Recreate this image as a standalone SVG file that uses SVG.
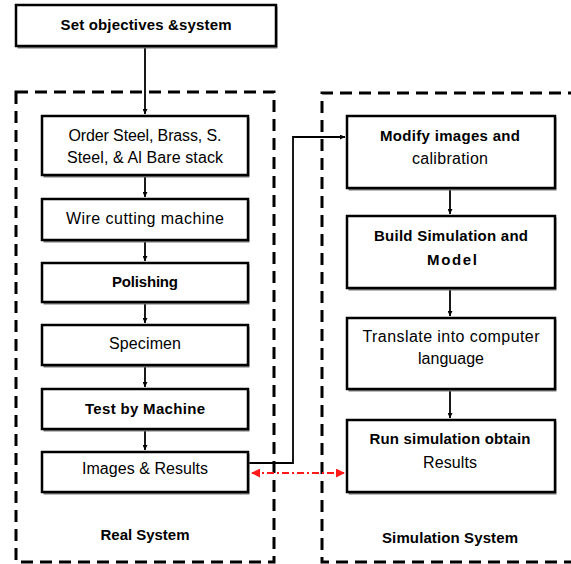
<svg xmlns="http://www.w3.org/2000/svg" width="571" height="564" viewBox="0 0 571 564">
<style>
.box{fill:#fff;stroke:#000;stroke-width:2.5}
.sh{fill:#777}
.t{font-family:"Liberation Sans",Arial,sans-serif;font-size:16px;text-anchor:middle;fill:#000}
.b{font-weight:bold;font-size:15px}
.cont{fill:none;stroke:#000;stroke-width:3;stroke-dasharray:12 7}
.con{fill:none;stroke:#000;stroke-width:1.8}
.red{fill:none;stroke:#ff1a1a;stroke-width:2;stroke-dasharray:7 3 2 3}
</style>
<defs>
<marker id="ah" viewBox="0 0 10 10" refX="10" refY="5" markerWidth="5" markerHeight="5" orient="auto" markerUnits="userSpaceOnUse">
<path d="M0,0L10,5L0,10z" fill="#000"/>
</marker>
<marker id="ar" viewBox="0 0 10 10" refX="9" refY="5" markerWidth="9" markerHeight="9" orient="auto-start-reverse" markerUnits="userSpaceOnUse">
<path d="M0,0L10,5L0,10z" fill="#ff1a1a"/>
</marker>
</defs>
<rect width="571" height="564" fill="#fff"/>
<g id="containers">
<g id="real-system">
<rect class="cont" x="16" y="92" width="258" height="470"/>
<text class="t b" x="145" y="540" textLength="89">Real System</text>
</g>
<g id="simulation-system">
<path class="cont" d="M580,93H322V562H580"/>
<text class="t b" x="450" y="543" textLength="136">Simulation System</text>
</g>
</g>
<g id="connectors">
<path class="con" d="M145,47V114" marker-end="url(#ah)"/>
<path class="con" d="M145,176V197" marker-end="url(#ah)"/>
<path class="con" d="M145,241V261" marker-end="url(#ah)"/>
<path class="con" d="M145,303V323" marker-end="url(#ah)"/>
<path class="con" d="M145,366V387" marker-end="url(#ah)"/>
<path class="con" d="M145,430V450" marker-end="url(#ah)"/>
<path class="con" d="M450,189V214" marker-end="url(#ah)"/>
<path class="con" d="M450,289V316" marker-end="url(#ah)"/>
<path class="con" d="M450,390V418" marker-end="url(#ah)"/>
<path class="con" d="M246,463H293V137H345" marker-end="url(#ah)"/>
<path class="red" d="M252,473H344" marker-start="url(#ar)" marker-end="url(#ar)"/>
</g>
<g id="n-objectives">
<rect class="sh" x="17.5" y="6.5" width="260" height="42"/>
<rect class="box" x="16" y="5" width="260" height="41"/>
<text class="t b" x="146" y="30" textLength="171">Set objectives &amp;system</text>
</g>
<g id="n-order">
<rect class="sh" x="43.5" y="117.5" width="206" height="60"/>
<rect class="box" x="42" y="116" width="206" height="59"/>
<text class="t" x="145" y="141" textLength="153">Order Steel, Brass, S.</text>
<text class="t" x="145" y="163" textLength="156">Steel, &amp; Al Bare stack</text>
</g>
<g id="n-wire">
<rect class="sh" x="43.5" y="200.5" width="206" height="42"/>
<rect class="box" x="42" y="199" width="206" height="41"/>
<text class="t" x="145" y="224" textLength="158">Wire cutting machine</text>
</g>
<g id="n-polishing">
<rect class="sh" x="43.5" y="264.5" width="206" height="40"/>
<rect class="box" x="42" y="263" width="206" height="39"/>
<text class="t b" x="145" y="287" textLength="66">Polishing</text>
</g>
<g id="n-specimen">
<rect class="sh" x="43.5" y="326.5" width="206" height="41"/>
<rect class="box" x="42" y="325" width="206" height="40"/>
<text class="t" x="145" y="349" textLength="72">Specimen</text>
</g>
<g id="n-test">
<rect class="sh" x="43.5" y="390.5" width="206" height="41"/>
<rect class="box" x="42" y="389" width="206" height="40"/>
<text class="t b" x="145" y="414" textLength="120">Test by Machine</text>
</g>
<g id="n-images">
<rect class="sh" x="43.5" y="453.5" width="206" height="41"/>
<rect class="box" x="42" y="452" width="206" height="40"/>
<text class="t" x="145" y="474" textLength="126">Images &amp; Results</text>
</g>
<g id="n-modify">
<rect class="sh" x="348.5" y="117.5" width="208" height="73"/>
<rect class="box" x="347" y="116" width="208" height="72"/>
<text class="t b" x="450" y="141" textLength="140">Modify images and</text>
<text class="t" x="450" y="164" textLength="76">calibration</text>
</g>
<g id="n-build">
<rect class="sh" x="348.5" y="217.5" width="208" height="73"/>
<rect class="box" x="347" y="216" width="208" height="72"/>
<text class="t b" x="451" y="241" textLength="154">Build Simulation and</text>
<text class="t b" x="452" y="265" textLength="50">Model</text>
</g>
<g id="n-translate">
<rect class="sh" x="348.5" y="319.5" width="208" height="72"/>
<rect class="box" x="347" y="318" width="208" height="71"/>
<text class="t" x="451" y="342" textLength="177">Translate into computer</text>
<text class="t" x="451" y="364" textLength="66">language</text>
</g>
<g id="n-run">
<rect class="sh" x="348.5" y="421.5" width="208" height="73"/>
<rect class="box" x="347" y="420" width="208" height="72"/>
<text class="t b" x="450" y="444" textLength="161">Run simulation obtain</text>
<text class="t" x="450" y="468" textLength="54">Results</text>
</g>
</svg>
